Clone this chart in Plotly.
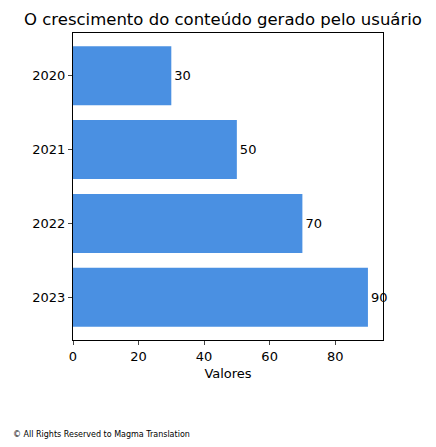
import plotly.graph_objects as go

years = ["2020", "2021", "2022", "2023"]
values = [30, 50, 70, 90]

L, T, W, H = 65, 25, 310, 307
fig = go.Figure(go.Bar(
    x=values, y=years, orientation="h", width=0.8,
    marker=dict(color="#4a90e2", line=dict(width=0)),
    text=[str(v) for v in values], textposition="outside",
    textfont=dict(size=13, color="black"), cliponaxis=False,
))
fig.update_layout(
    width=436, height=447, margin=dict(l=L, r=436 - L - W, t=T, b=447 - T - H),
    plot_bgcolor="white", paper_bgcolor="white",
    font=dict(family="DejaVu Sans", size=13, color="black"),
    title=dict(text="O crescimento do conteúdo gerado pelo usuário", x=(L + W / 2 - 5) / 436, xanchor="center",
               y=1 - 11 / 447, yanchor="middle", font=dict(size=16.5)),
    showlegend=False, bargap=0.2,
    annotations=[dict(text="© All Rights Reserved to Magma Translation", xref="paper", yref="paper",
                      x=-(L - 3) / W, y=-(426 - T - H) / H, xanchor="left", yanchor="middle",
                      showarrow=False, font=dict(size=8))],
)
fig.update_xaxes(range=[0, 94.6], tickvals=[0, 20, 40, 60, 80], showgrid=False, zeroline=False,
                 showline=True, linecolor="black", mirror=True, ticks="outside", ticklen=4,
                 title=dict(text="Valores", standoff=6, font=dict(size=13)))
fig.update_yaxes(type="category", range=[3.58, -0.58], showgrid=False, showline=True,
                 linecolor="black", mirror=True, ticks="outside", ticklen=4)
fig.write_html("out.html")
